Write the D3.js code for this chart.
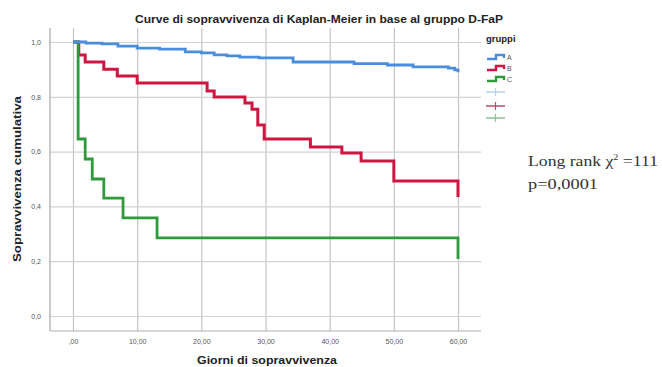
<!DOCTYPE html>
<html><head><meta charset="utf-8">
<script src="https://cdn.jsdelivr.net/npm/d3@7"></script>
<style>body{margin:0;background:#fff}svg{display:block}</style>
</head><body>
<svg id="c" width="662" height="367"></svg>
<script>
const title = "Curve di sopravvivenza di Kaplan-Meier in base al gruppo D-FaP";
const xLabel = "Giorni di sopravvivenza";
const yLabel = "Sopravvivenza cumulativa";
const xTicks = [0, 10, 20, 30, 40, 50, 60];
const xTickLabels = [",00", "10,00", "20,00", "30,00", "40,00", "50,00", "60,00"];
const yTicks = [0, 0.2, 0.4, 0.6, 0.8, 1.0];
const yTickLabels = ["0,0", "0,2", "0,4", "0,6", "0,8", "1,0"];
const groups = ["A", "B", "C"];
const colors = ["#4a8edb", "#cf1640", "#2f9a3c"];
const censorColors = ["#b5d2f0", "#b84a68", "#8cc296"];
// group A
const daysA = [0, 2, 4.5, 7, 10, 13.5, 17.5, 20, 22, 24, 26, 29, 34.3, 43.8, 49, 53, 58.5, 59.5, 60];
const survA = [1, 0.996, 0.993, 0.985, 0.978, 0.974, 0.964, 0.960, 0.953, 0.949, 0.945, 0.942, 0.927, 0.921, 0.916, 0.909, 0.905, 0.898, 0.890];
// group B
const daysB = [0, 0.9, 1.9, 4.8, 6.9, 10.0, 20.9, 22.0, 26.8, 27.9, 28.8, 29.8, 37.0, 41.9, 44.9, 50.0, 60.0];
const survB = [1, 0.953, 0.927, 0.901, 0.876, 0.850, 0.821, 0.799, 0.777, 0.755, 0.697, 0.646, 0.617, 0.595, 0.566, 0.493, 0.434];
// group C
const daysC = [0, 0.8, 1.9, 3.0, 4.8, 7.8, 13.1, 60];
const survC = [1, 0.646, 0.573, 0.500, 0.430, 0.358, 0.285, 0.208];
const statLine1 = "Long rank χ";
const statSup = "2";
const statLine1b = " =111";
const statLine2 = "p=0,0001";

const svg = d3.select("#c");
const plot = {left: 50, right: 481, top: 28, bottom: 331};
const x = d3.scaleLinear().domain([0, 60]).range([73, 458]);
const y = d3.scaleLinear().domain([0, 1]).range([316, 42]);

// gridlines
svg.append("g").attr("transform", `translate(0,${plot.bottom})`)
  .call(d3.axisBottom(x).tickValues(xTicks).tickSize(-(plot.bottom - plot.top)).tickFormat(""))
  .call(g => g.select(".domain").remove())
  .call(g => g.selectAll("line").attr("stroke", "#c4c4c4").attr("stroke-width", 1.2));
svg.append("g").attr("transform", `translate(${plot.left},0)`)
  .call(d3.axisLeft(y).tickValues(yTicks).tickSize(-(plot.right - plot.left)).tickFormat(""))
  .call(g => g.select(".domain").remove())
  .call(g => g.selectAll("line").attr("stroke", "#d2d2d2").attr("stroke-width", 1.2));

// axis lines
svg.append("line").attr("x1", plot.left).attr("x2", plot.left).attr("y1", plot.top).attr("y2", plot.bottom)
  .attr("stroke", "#a8a8a8").attr("stroke-width", 1.2);
svg.append("line").attr("x1", plot.left).attr("x2", plot.right).attr("y1", plot.bottom).attr("y2", plot.bottom)
  .attr("stroke", "#b0b0b0").attr("stroke-width", 1.2);

// tick labels
svg.append("g").attr("transform", `translate(0,${plot.bottom + 5})`)
  .call(d3.axisBottom(x).tickValues(xTicks).tickSize(0).tickFormat((d, i) => xTickLabels[i]))
  .call(g => g.select(".domain").remove())
  .call(g => g.selectAll("text").attr("fill", "#555").attr("font-size", 7).attr("font-family", "Liberation Sans, Arial, sans-serif"));
svg.append("g").attr("transform", `translate(${plot.left - 6},0)`)
  .call(d3.axisLeft(y).tickValues(yTicks).tickSize(0).tickFormat((d, i) => yTickLabels[i]))
  .call(g => g.select(".domain").remove())
  .call(g => g.selectAll("text").attr("fill", "#555").attr("font-size", 7).attr("font-family", "Liberation Sans, Arial, sans-serif"));

// curves
const line = d3.line().x(d => x(d[0])).y(d => y(d[1])).curve(d3.curveStepAfter);
const series = [[daysA, survA], [daysB, survB], [daysC, survC]];
const order = [1, 2, 0];
order.forEach(i => {
  const [ds, ss] = series[i];
  svg.append("path").datum(ds.map((d, j) => [d, ss[j]]))
    .attr("d", line).attr("fill", "none").attr("stroke", colors[i])
    .attr("stroke-width", i === 1 ? 3 : 2.8).attr("stroke-linejoin", "miter");
});

// title & labels
const sans = "Liberation Sans, Arial, sans-serif";
svg.append("text").attr("x", 135).attr("y", 23).text(title)
  .attr("font-family", sans).attr("font-size", 10).attr("font-weight", "bold").attr("fill", "#222")
  .attr("textLength", 368).attr("lengthAdjust", "spacingAndGlyphs");
svg.append("text").attr("x", 197).attr("y", 364).text(xLabel)
  .attr("font-family", sans).attr("font-size", 10.5).attr("font-weight", "bold").attr("fill", "#222")
  .attr("textLength", 140).attr("lengthAdjust", "spacingAndGlyphs");
svg.append("text").attr("transform", "translate(21,262) rotate(-90)").text(yLabel)
  .attr("font-family", sans).attr("font-size", 10.5).attr("font-weight", "bold").attr("fill", "#222")
  .attr("textLength", 166).attr("lengthAdjust", "spacingAndGlyphs");

// legend
const lg = svg.append("g");
lg.append("text").attr("x", 486).attr("y", 42).text("gruppi")
  .attr("font-family", sans).attr("font-size", 9.5).attr("font-weight", "bold").attr("fill", "#222");
const legendY = [57, 68, 79];
groups.forEach((gname, i) => {
  const yy = legendY[i];
  lg.append("path").attr("d", `M487,${yy + 2}H496V${yy - 2}H504V${yy + 1}`)
    .attr("fill", "none").attr("stroke", colors[i]).attr("stroke-width", 2.4);
  lg.append("text").attr("x", 507).attr("y", yy + 3).text(gname)
    .attr("font-family", sans).attr("font-size", 7).attr("fill", "#555");
});
const censorY = [92, 106, 118];
groups.forEach((gname, i) => {
  const yy = censorY[i];
  lg.append("line").attr("x1", 486).attr("x2", 505).attr("y1", yy).attr("y2", yy)
    .attr("stroke", censorColors[i]).attr("stroke-width", 1.5);
  lg.append("line").attr("x1", 495.5).attr("x2", 495.5).attr("y1", yy - 4).attr("y2", yy + 4)
    .attr("stroke", censorColors[i]).attr("stroke-width", 1.2);
});

// statistics annotation
const serif = "Liberation Serif, Times New Roman, serif";
const st = svg.append("text").attr("x", 528).attr("y", 166)
  .attr("font-family", serif).attr("font-size", 14).attr("fill", "#333")
  .attr("textLength", 130).attr("lengthAdjust", "spacingAndGlyphs");
st.append("tspan").text(statLine1);
st.append("tspan").text(statSup).attr("font-size", 8).attr("dy", -6);
st.append("tspan").text(statLine1b).attr("dy", 6);
svg.append("text").attr("x", 528).attr("y", 189).text(statLine2)
  .attr("font-family", serif).attr("font-size", 14).attr("fill", "#333")
  .attr("textLength", 70).attr("lengthAdjust", "spacingAndGlyphs");
</script>
</body></html>
